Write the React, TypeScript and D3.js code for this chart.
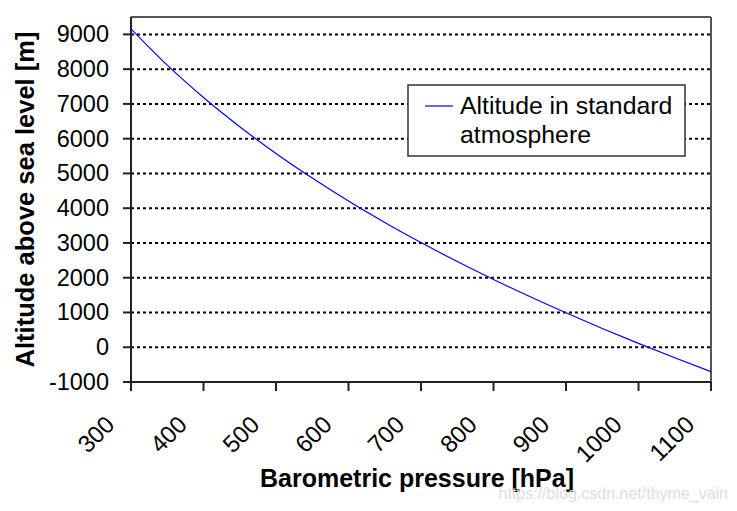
import React from 'react';
import * as d3 from 'd3';

// values
const pressures = [300, 350, 400, 450, 500, 550, 600, 650, 700, 750, 800, 850, 900, 950, 1000, 1050, 1100];
const altitudes = [9160, 8115, 7185, 6345, 5575, 4865, 4205, 3590, 3012, 2465, 1950, 1458, 990, 540, 110, -302, -700];
const xTicks = [300, 400, 500, 600, 700, 800, 900, 1000, 1100];
const yTicks = [9000, 8000, 7000, 6000, 5000, 4000, 3000, 2000, 1000, 0, -1000];
const seriesName = ['Altitude in standard', 'atmosphere'];

const W = 737;
const H = 511;
const left = 131, right = 711, top = 17, bottom = 382;
const font = '"Liberation Sans", Arial, sans-serif';

const App = () => {
  const x = d3.scaleLinear().domain([300, 1100]).range([left, right]);
  const y = d3.scaleLinear().domain([-1000, 9500]).range([bottom, top]);

  const pts = pressures.map((p, i) => [p, altitudes[i]] as [number, number]);
  const line = d3.line<[number, number]>()
    .x(d => x(d[0]))
    .y(d => y(d[1]))
    .curve(d3.curveMonotoneX);

  return (
    <svg width={W} height={H} style={{ position: 'absolute', left: 0, top: 0, background: '#fff' }}>
      {/* grid */}
      {yTicks.filter(t => t > -1000).map(t => (
        <line key={'g' + t} x1={left} x2={right} y1={y(t)} y2={y(t)}
          stroke="#000" strokeWidth={2} strokeDasharray="3,3" />
      ))}
      {/* frame */}
      <line x1={left} x2={right} y1={top} y2={top} stroke="#555" strokeWidth={2} />
      <line x1={right} x2={right} y1={top} y2={bottom + 9} stroke="#555" strokeWidth={2} />
      <line x1={left} x2={left} y1={top} y2={bottom} stroke="#222" strokeWidth={2} />
      <line x1={left} x2={right} y1={bottom} y2={bottom} stroke="#222" strokeWidth={2} />

      {/* y ticks */}
      {yTicks.map(t => (
        <g key={'y' + t}>
          <line x1={left - 8} x2={left} y1={y(t)} y2={y(t)} stroke="#222" strokeWidth={2} />
          <text x={left - 22} y={y(t) + 8} textAnchor="end" fontFamily={font} fontSize={23.5} fill="#000">{t}</text>
        </g>
      ))}
      {/* x ticks */}
      {xTicks.map(t => (
        <g key={'x' + t}>
          <line x1={x(t)} x2={x(t)} y1={bottom} y2={bottom + 9} stroke="#222" strokeWidth={2} />
          <text transform={`translate(${x(t) - 15},${426}) rotate(-45)`} textAnchor="end"
            fontFamily={font} fontSize={24} fill="#000">{t}</text>
        </g>
      ))}

      {/* series */}
      <path d={line(pts) || ''} fill="none" stroke="#0000ff" strokeWidth={1.2} />

      {/* legend */}
      <rect x={408} y={85} width={277} height={71} fill="#fff" stroke="#333" strokeWidth={1.5} />
      <line x1={425} x2={453} y1={106} y2={106} stroke="#3333ff" strokeWidth={1.5} />
      {seriesName.map((s, i) => (
        <text key={s} x={460} y={114 + i * 29} fontFamily={font} fontSize={24.8} fill="#000">{s}</text>
      ))}

      {/* axis titles */}
      <text x={(left + right) / 2 - 4} y={487} textAnchor="middle" fontFamily={font} fontSize={25}
        fontWeight="bold" fill="#000">Barometric pressure [hPa]</text>
      <text transform={`translate(34,${(top + bottom) / 2 + 0}) rotate(-90)`} textAnchor="middle"
        fontFamily={font} fontSize={25.5} fontWeight="bold" fill="#000">Altitude above sea level [m]</text>

      {/* watermark */}
      <text x={728} y={499} textAnchor="end" fontFamily={font} fontSize={16} fill="#dddddd">https://blog.csdn.net/thyme_vain</text>
    </svg>
  );
};

export default App;
